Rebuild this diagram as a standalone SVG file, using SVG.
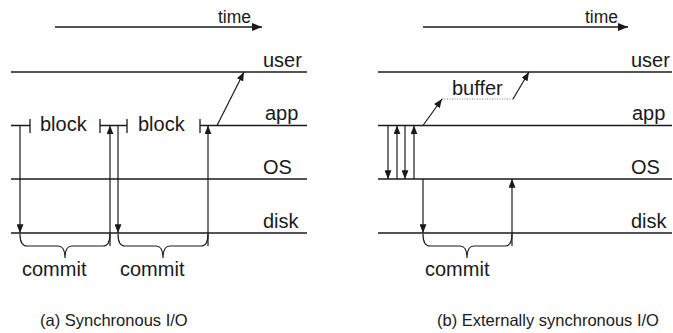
<svg xmlns="http://www.w3.org/2000/svg" width="673" height="333" viewBox="0 0 673 333">
<defs>
<marker id="ah" viewBox="0 0 10 8" refX="10" refY="4" markerWidth="9" markerHeight="7" orient="auto" markerUnits="userSpaceOnUse"><path d="M0,0 L10,4 L0,8 z" fill="#1a1a1a"/></marker>
<marker id="ht" viewBox="0 0 10 8" refX="10" refY="4" markerWidth="10" markerHeight="8" orient="auto" markerUnits="userSpaceOnUse"><path d="M0,0 L10,4 L0,8 z" fill="#1a1a1a"/></marker>
</defs>
<style>
.ln{stroke:#1a1a1a;stroke-width:1.3;fill:none}
.ar{stroke:#1a1a1a;stroke-width:1.2;fill:none;marker-end:url(#ah)}
.br{stroke:#1a1a1a;stroke-width:1.2;fill:none}
.t{font-family:"Liberation Sans",Arial,sans-serif;font-size:20px;fill:#1a1a1a}
.tm{font-family:"Liberation Sans",Arial,sans-serif;font-size:17.5px;fill:#1a1a1a}
.cap{font-family:"Liberation Sans",Arial,sans-serif;font-size:16.5px;fill:#1a1a1a}
.dot{stroke:#777;stroke-width:1.2;stroke-dasharray:1 1.5;fill:none}
</style>
<rect width="673" height="333" fill="#fff"/>

<g id="panel-a">
<g id="a-time">
<line x1="55" y1="27" x2="262" y2="27" class="ln" marker-end="url(#ht)"/>
<text x="218" y="23" class="tm">time</text>
</g>
<g id="a-user"><line x1="11" y1="72" x2="307" y2="72" class="ln"/><text x="263" y="67" class="t">user</text></g>
<g id="a-app">
<path d="M11,125.5 H30 M100,125.5 H127 M200,125.5 H307" class="ln"/>
<path d="M30,119 V133 M100,119 V133 M127,119 V133 M200,119 V133" class="ln"/>
<text x="265" y="120" class="t">app</text>
<text x="40" y="131" class="t">block</text>
<text x="138" y="131" class="t">block</text>
</g>
<g id="a-os"><line x1="11" y1="179" x2="307" y2="179" class="ln"/><text x="263" y="174" class="t">OS</text></g>
<g id="a-disk"><line x1="11" y1="233" x2="307" y2="233" class="ln"/><text x="263" y="228" class="t">disk</text></g>
<g id="a-commit1">
<path d="M20,234 Q20,246 27,246 H58 Q65,246 65,258 Q65,246 72,246 H103 Q110,246 110,234" class="br"/>
<text x="22" y="276" class="t">commit</text>
</g>
<g id="a-commit2">
<path d="M118,234 Q118,246 125,246 H156 Q163,246 163,258 Q163,246 170,246 H201 Q208,246 208,234" class="br"/>
<text x="120" y="276" class="t">commit</text>
</g>
<text x="40" y="326" class="cap">(a) Synchronous I/O</text>
</g>

<g id="panel-b">
<g id="b-time">
<line x1="423" y1="27" x2="628" y2="27" class="ln" marker-end="url(#ht)"/>
<text x="585" y="23" class="tm">time</text>
</g>
<g id="b-user"><line x1="378" y1="72" x2="672" y2="72" class="ln"/><text x="631" y="67" class="t">user</text></g>
<g id="b-app"><line x1="378" y1="125.5" x2="672" y2="125.5" class="ln"/><text x="632" y="120" class="t">app</text></g>
<g id="b-os"><line x1="378" y1="179" x2="672" y2="179" class="ln"/><text x="631" y="174" class="t">OS</text></g>
<g id="b-disk"><line x1="378" y1="233" x2="672" y2="233" class="ln"/><text x="631" y="228" class="t">disk</text></g>
<g id="b-buffer">
<line x1="442" y1="99" x2="513" y2="99" class="dot"/>
<text x="452" y="95" class="t">buffer</text>
</g>
<g id="b-commit">
<path d="M423,234 Q423,246 430,246 H460 Q467,246 467,258 Q467,246 474,246 H505 Q512,246 512,234" class="br"/>
<text x="425" y="276" class="t">commit</text>
</g>
<text x="437" y="326" class="cap">(b) Externally synchronous I/O</text>
</g>

<g id="connectors">
<line x1="20" y1="125.5" x2="20" y2="233" class="ar"/>
<line x1="110" y1="246" x2="110" y2="125.5" class="ar"/>
<line x1="118" y1="125.5" x2="118" y2="233" class="ar"/>
<line x1="208" y1="246" x2="208" y2="125.5" class="ar"/>
<line x1="217" y1="125.5" x2="244" y2="72" class="ar"/>

<line x1="388" y1="125.5" x2="388" y2="179" class="ar"/>
<line x1="397" y1="179" x2="397" y2="125.5" class="ar"/>
<line x1="405" y1="125.5" x2="405" y2="179" class="ar"/>
<line x1="414" y1="179" x2="414" y2="125.5" class="ar"/>
<line x1="423" y1="179" x2="423" y2="233" class="ar"/>
<line x1="512" y1="246" x2="512" y2="179" class="ar"/>
<line x1="423" y1="125.5" x2="442" y2="99" class="ar"/>
<line x1="513" y1="99" x2="529" y2="72" class="ar"/>
</g>
</svg>
